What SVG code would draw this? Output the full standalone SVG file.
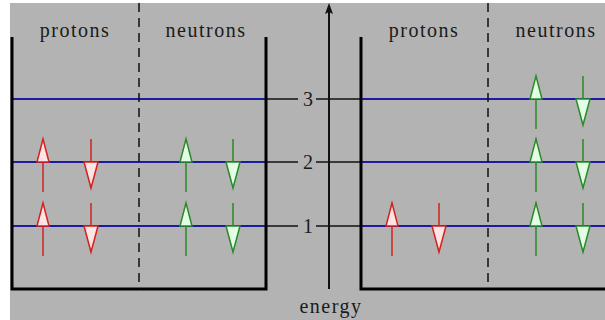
<svg xmlns="http://www.w3.org/2000/svg" width="605" height="320" viewBox="0 0 605 320">
<defs>
<style>
.bg{fill:#b3b3b3}
.wall{stroke:#000;stroke-width:3;fill:none}
.dash{stroke:#111;stroke-width:1.5;stroke-dasharray:9,6;fill:none}
.lvl{stroke:#1c1ca0;stroke-width:2}
.tick{stroke:#111;stroke-width:1.5}
.lbl{font-family:"Liberation Serif",serif;font-size:20px;fill:#1a1a1a;letter-spacing:1.5px}
.num{font-family:"Liberation Serif",serif;font-size:20px;fill:#1a1a1a}
.pr{stroke:#d42020;stroke-width:1.5;fill:#ffe4e4}
.ne{stroke:#2a8a2a;stroke-width:1.5;fill:#e2ffe6}
</style>
<g id="up"><line x1="0" y1="-23" x2="0" y2="30"/><path d="M0,-23 L6,0 L-6,0 Z"/></g>
<g id="dn"><line x1="0" y1="-23" x2="0" y2="24"/><path d="M-7,0 L7,0 L0,26 Z"/></g>
</defs>
<rect x="0" y="0" width="605" height="320" fill="#ffffff"/>
<rect class="bg" x="10" y="3" width="595" height="317"/>

<g id="connectors">
<line class="lvl" x1="12" y1="99" x2="266" y2="99"/>
<line class="lvl" x1="12" y1="162" x2="266" y2="162"/>
<line class="lvl" x1="12" y1="226" x2="266" y2="226"/>
<line class="tick" x1="266" y1="99" x2="298" y2="99"/>
<line class="tick" x1="266" y1="162" x2="298" y2="162"/>
<line class="tick" x1="266" y1="226" x2="298" y2="226"/>
<line class="tick" x1="316" y1="99" x2="361" y2="99"/>
<line class="tick" x1="316" y1="162" x2="361" y2="162"/>
<line class="tick" x1="316" y1="226" x2="361" y2="226"/>
<line class="lvl" x1="361" y1="99" x2="605" y2="99"/>
<line class="lvl" x1="361" y1="162" x2="605" y2="162"/>
<line class="lvl" x1="361" y1="226" x2="605" y2="226"/>
</g>

<g id="left-well">
<path class="wall" d="M12,37 V289 H266 V37"/>
<line class="dash" x1="139" y1="3" x2="139" y2="289"/>
<text class="lbl" x="75" y="37" text-anchor="middle">protons</text>
<text class="lbl" x="206" y="37" text-anchor="middle">neutrons</text>
</g>

<g id="right-well">
<path class="wall" d="M361,37 V289 H605"/>
<line class="dash" x1="488" y1="3" x2="488" y2="289"/>
<text class="lbl" x="424" y="37" text-anchor="middle">protons</text>
<text class="lbl" x="556" y="37" text-anchor="middle">neutrons</text>
</g>

<g id="energy-axis">
<line x1="329" y1="289" x2="329" y2="8" stroke="#111" stroke-width="2"/>
<path d="M329,3 L333,14 L329,12 L325,14 Z" fill="#111"/>
<text class="num" x="308" y="106" text-anchor="middle">3</text>
<text class="num" x="308" y="169" text-anchor="middle">2</text>
<text class="num" x="308" y="233" text-anchor="middle">1</text>
<text class="lbl" x="331" y="313" text-anchor="middle">energy</text>
</g>

<g id="left-protons" class="pr">
<use href="#up" x="43" y="162"/><use href="#dn" x="91" y="162"/>
<use href="#up" x="43" y="226"/><use href="#dn" x="91" y="226"/>
</g>
<g id="left-neutrons" class="ne">
<use href="#up" x="186" y="162"/><use href="#dn" x="233" y="162"/>
<use href="#up" x="186" y="226"/><use href="#dn" x="233" y="226"/>
</g>
<g id="right-protons" class="pr">
<use href="#up" x="392" y="226"/><use href="#dn" x="439" y="226"/>
</g>
<g id="right-neutrons" class="ne">
<use href="#up" x="536" y="99"/><use href="#dn" x="583" y="99"/>
<use href="#up" x="536" y="162"/><use href="#dn" x="583" y="162"/>
<use href="#up" x="536" y="226"/><use href="#dn" x="583" y="226"/>
</g>
</svg>
